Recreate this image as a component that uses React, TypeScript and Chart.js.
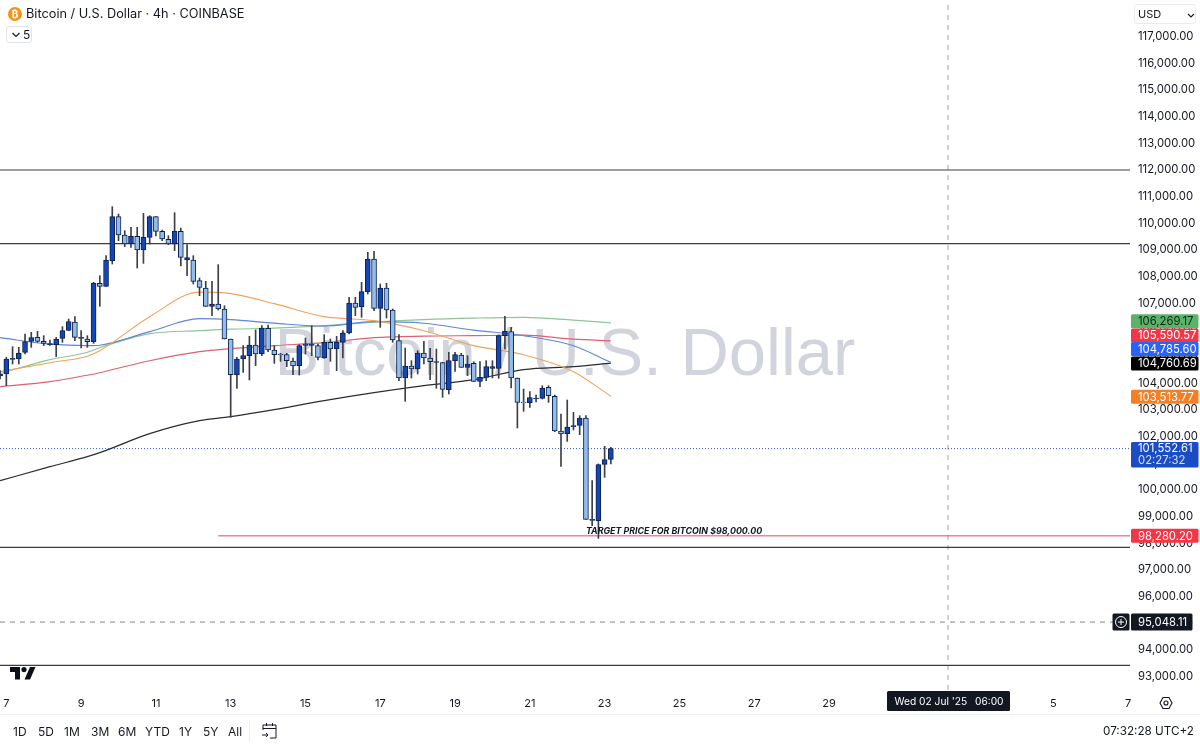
import React, { useEffect, useRef } from 'react'
import Chart from 'chart.js/auto'

// 4h candles, first candle is the one just left of the "7" tick
const opens = [
  104275, 104350, 104900, 104912, 105162, 105575, 105725, 105575, 105450, 105450,
  105687, 105987, 106300, 105687, 105662, 105562, 107750, 107637, 108600, 110250,
  109562, 109225, 109512, 109000, 109475, 110250, 109700, 109400, 109225, 109700,
  108625, 108625, 107850, 107575, 106887, 106975, 106787, 105662, 104312, 104912,
  105037, 105437, 105100, 106062, 105250, 105100, 105075, 104837, 104662, 105425,
  105425, 105412, 104950, 105537, 105287, 105537, 105887, 107012, 106875, 107437,
  108662, 106812, 107575, 106750, 105600, 104200, 104650, 104537, 105137, 104950,
  104787, 104775, 103762, 104850, 105062, 104600, 104750, 104075, 104225, 104562,
  104562, 105787, 105937, 104200, 103300, 103275, 103412, 103437, 103850, 103512,
  102212, 102112, 102375, 102425, 102700, 98862, 98850, 100962, 101150
]
const closes = [
  104350, 104912, 104937, 105137, 105562, 105712, 105575, 105500, 105487, 105662,
  105975, 106312, 105725, 105725, 105562, 107762, 107637, 108625, 110250, 109562,
  109225, 109512, 109000, 109475, 110250, 109700, 109412, 109225, 109700, 108725,
  108712, 107825, 107600, 106887, 106975, 106787, 105662, 104325, 104912, 105037,
  105437, 105100, 106075, 105250, 105075, 105062, 104850, 104650, 105412, 105475,
  105462, 104975, 105537, 105287, 105537, 105887, 107012, 106850, 107437, 108662,
  106812, 107575, 106750, 105625, 104200, 104650, 104537, 105137, 104950, 104812,
  104812, 103775, 104850, 105075, 104600, 104725, 104075, 104225, 104625, 104625,
  105787, 105950, 104200, 103287, 103275, 103462, 103450, 103825, 103537, 102212,
  102100, 102362, 102412, 102700, 98900, 98900, 100950, 101137, 101552
]
const highs = [
  104475, 104975, 105375, 105350, 105850, 105912, 105950, 105787, 105625, 105725,
  106125, 106412, 106500, 105975, 105787, 107787, 108037, 108787, 110625, 110350,
  109725, 109850, 109850, 110375, 110287, 110250, 109750, 109537, 110400, 109825,
  109200, 108787, 107950, 107825, 107825, 108450, 106912, 105662, 104975, 105412,
  105762, 106000, 106162, 106187, 105412, 105125, 105125, 104950, 105450, 105700,
  106162, 105475, 105825, 105662, 105762, 105975, 107225, 107225, 107787, 108912,
  108950, 107725, 107750, 106787, 105825, 105325, 104850, 105225, 105575, 105312,
  105287, 104787, 105162, 105162, 105125, 105037, 104812, 104812, 104850, 104850,
  105812, 106512, 106100, 104200, 103787, 103687, 103562, 103912, 103912, 103562,
  102850, 103375, 102912, 102787, 102787, 100350, 100975, 101637, 101600
]
const lows = [
  104163, 103912, 104725, 104725, 105100, 105350, 105537, 105412, 105425, 105000,
  105537, 105975, 105600, 105325, 105350, 105500, 106887, 107637, 108475, 109350,
  109125, 109100, 108325, 108500, 109225, 109525, 109350, 109200, 108975, 108400,
  108037, 107725, 107287, 106887, 106537, 106750, 105662, 102725, 103812, 104412,
  104125, 104662, 105037, 105187, 104750, 104825, 104625, 104325, 104312, 105100,
  105037, 104875, 104937, 104825, 104475, 104950, 105850, 106537, 106475, 107350,
  106725, 106100, 106450, 105537, 104100, 103325, 104200, 104350, 104725, 104137,
  103812, 103475, 103600, 104450, 104600, 104287, 104062, 103875, 104100, 104200,
  104187, 105287, 103825, 102325, 102950, 103100, 103300, 103412, 103287, 102187,
  100887, 101825, 102250, 102075, 98900, 98662, 98187, 100475, 100975
]

// moving averages, read at these candles
const maCandles = [0, 8, 14, 16, 24, 32, 37, 44, 52, 60, 68, 76, 84, 92, 98]
const maOrange = [104438, 104775, 105019, 105225, 106500, 107419, 107363, 106988, 106500, 106350, 105975, 105413, 105075, 104438, 103514]
const maBlue = [105713, 105469, 105413, 105431, 105938, 106425, 106388, 106256, 106144, 106313, 106256, 105994, 105788, 105413, 104786]
const maGreen = [104363, 104888, 105169, 105338, 105863, 105975, 106031, 106069, 106163, 106294, 106388, 106444, 106474, 106369, 106269]
const maRed = [103875, 104063, 104306, 104400, 104850, 105188, 105300, 105413, 105525, 105713, 105769, 105788, 105806, 105656, 105591]
const maBlack = [100350, 100875, 101250, 101400, 102113, 102600, 102750, 103013, 103350, 103650, 103913, 104138, 104513, 104625, 104761]

const levelPrices = [112000, 109238, 97850, 93420]
const targetPrice = 98280.2
const currentPrice = 101552.61
const crosshairPrice = 95048.11
const crosshairCandle = 152.1

const xTickCandles = [1, 13, 25, 37, 49, 61, 73, 85, 97, 109, 121, 133, 169, 181]
const xTickLabels = ['7', '9', '11', '13', '15', '17', '19', '21', '23', '25', '27', '29', '5', '7']
const yTickValues = [
  93000, 94000, 95000, 96000, 97000, 98000, 99000, 100000, 101000, 102000, 103000, 104000, 105000,
  106000, 107000, 108000, 109000, 110000, 111000, 112000, 113000, 114000, 115000, 116000, 117000
]
const rangeButtons = ['1D', '5D', '1M', '3M', '6M', 'YTD', '1Y', '5Y', 'All']

const FONT = 'Inter, "Liberation Sans", sans-serif'
const AXIS_SIZE = 11.3
const X_MIN = -0.016
const X_MAX = 181.3
const Y_MIN = 92500
const Y_MAX = 118375

// price tags on the right axis: TradingView pushes them apart, hence the nudge
const tags = [
  { price: 106269.17, text: '106,269.17', bg: '#5bb36a', color: '#0b2a12', nudge: -1.5 },
  { price: 105590.57, text: '105,590.57', bg: '#f23645', color: '#ffffff', nudge: -5.5 },
  { price: 104785.6, text: '104,785.60', bg: '#2962ff', color: '#ffffff', nudge: -13.5 },
  { price: 104760.69, text: '104,760.69', bg: '#000000', color: '#ffffff', nudge: 0.5 },
  { price: 103513.77, text: '103,513.77', bg: '#f57f24', color: '#ffffff', nudge: 0.5 },
  { price: targetPrice, text: '98,280.20', bg: '#f23645', color: '#ffffff', nudge: 0 }
]

const maLine = (label: string, data: number[], color: string, width = 1.1) => ({
  type: 'line' as const,
  label,
  data: data.map((y, i) => ({ x: maCandles[i], y })),
  borderColor: color,
  borderWidth: width,
  pointRadius: 0,
  cubicInterpolationMode: 'monotone' as const,
  order: 5
})

const flatLine = (label: string, price: number, from: number, color: string, width: number, dash: number[] = []) => ({
  type: 'line' as const,
  label,
  data: [{ x: from, y: price }, { x: X_MAX, y: price }],
  borderColor: color,
  borderWidth: width,
  borderDash: dash,
  pointRadius: 0,
  order: 6
})

const watermark = {
  id: 'watermark',
  beforeDatasetsDraw(chart: Chart) {
    const { ctx } = chart
    ctx.save()
    ctx.font = '67px "Liberation Sans", sans-serif'
    ctx.fillStyle = '#d1d4dc'
    ctx.textAlign = 'center'
    ctx.textBaseline = 'middle'
    ctx.fillText('Bitcoin / U.S. Dollar', 565, 357)
    ctx.restore()
  }
}

const priceTags = {
  id: 'priceTags',
  afterDraw(chart: Chart) {
    const { ctx } = chart
    const yScale = chart.scales.y
    const xScale = chart.scales.x
    ctx.save()

    // note written on the chart
    ctx.font = 'italic bold 8.85px ' + FONT
    ctx.fillStyle = '#131722'
    ctx.textAlign = 'left'
    ctx.textBaseline = 'middle'
    ctx.fillText('TARGET PRICE FOR BITCOIN $98,000.00', xScale.getPixelForValue(94), yScale.getPixelForValue(98437))

    ctx.font = AXIS_SIZE + 'px ' + FONT
    tags.forEach((t) => {
      const y = yScale.getPixelForValue(t.price) + t.nudge
      ctx.fillStyle = t.bg
      ctx.beginPath()
      ctx.roundRect(1131, y - 7, 67.5, 14, 1.5)
      ctx.fill()
      ctx.fillStyle = t.color
      ctx.fillText(t.text, 1138, y + 0.5)
    })

    // last price with the countdown under it
    const py = yScale.getPixelForValue(currentPrice)
    ctx.fillStyle = '#1a4cc4'
    ctx.beginPath()
    ctx.roundRect(1131, py - 6.5, 67.5, 25.5, 1.5)
    ctx.fill()
    ctx.fillStyle = '#ffffff'
    ctx.fillText('101,552.61', 1138, py + 0.5)
    ctx.fillStyle = '#d6e0fb'
    ctx.fillText('02:27:32', 1138, py + 12.5)

    // crosshair price
    const cy = yScale.getPixelForValue(crosshairPrice)
    ctx.fillStyle = '#131722'
    ctx.beginPath()
    ctx.roundRect(1112.5, cy - 8.5, 17, 17, 1.5)
    ctx.fill()
    ctx.beginPath()
    ctx.roundRect(1131, cy - 8.5, 61.5, 17, 1.5)
    ctx.fill()
    ctx.strokeStyle = '#ffffff'
    ctx.lineWidth = 1
    ctx.beginPath()
    ctx.arc(1121, cy, 5.5, 0, Math.PI * 2)
    ctx.moveTo(1118, cy)
    ctx.lineTo(1124, cy)
    ctx.moveTo(1121, cy - 3)
    ctx.lineTo(1121, cy + 3)
    ctx.stroke()
    ctx.fillStyle = '#ffffff'
    ctx.fillText('95,048.11', 1138, cy + 0.5)

    // crosshair time
    ctx.fillStyle = '#131722'
    ctx.beginPath()
    ctx.roundRect(887, 691, 123, 20, 1.5)
    ctx.fill()
    ctx.font = '10.2px ' + FONT
    ctx.fillStyle = '#ffffff'
    ctx.fillText("Wed 02 Jul '25", 894.5, 702)
    ctx.fillText('06:00', 975, 702)
    ctx.restore()
  }
}

const textStyle: React.CSSProperties = { position: 'absolute', fontFamily: FONT, color: '#131722', whiteSpace: 'nowrap', lineHeight: 1 }
const rangeLeft = [13, 38, 64, 91, 118, 145, 179, 203, 228]

const App: React.FC = () => {
  const chartRef = useRef<HTMLCanvasElement | null>(null)

  useEffect(() => {
    if (!chartRef.current) return
    const candleX = opens.map((_, i) => i)

    const chart = new Chart(chartRef.current, {
      type: 'bar',
      data: {
        datasets: [
          {
            label: 'body',
            data: candleX.map((x) => ({ x, y: [opens[x], closes[x]] })),
            backgroundColor: candleX.map((x) => (closes[x] >= opens[x] ? '#1247b5' : '#90bdeb')),
            borderColor: '#10204a',
            borderWidth: 1,
            borderSkipped: false,
            barThickness: 5,
            grouped: false,
            order: 1
          },
          {
            label: 'wick',
            data: candleX.map((x) => ({ x, y: [lows[x], highs[x]] })),
            backgroundColor: '#3c3f48',
            borderWidth: 0,
            barThickness: 1,
            grouped: false,
            order: 2
          },
          maLine('MA orange', maOrange, '#f0a35e'),
          maLine('MA blue', maBlue, '#5f86d8'),
          maLine('MA green', maGreen, '#8cc694'),
          maLine('MA red', maRed, '#e0606e'),
          maLine('MA black', maBlack, '#2a2c33', 1.2),
          ...levelPrices.map((p, i) => flatLine('level ' + i, p, X_MIN, '#3a3c42', 1.2)),
          flatLine('target', targetPrice, 35, '#e2475a', 1),
          flatLine('last', currentPrice, X_MIN, '#2f5fc9', 1, [1, 2]),
          flatLine('cross h', crosshairPrice, X_MIN, '#83868f', 1, [5, 5]),
          {
            type: 'line' as const,
            label: 'cross v',
            data: [{ x: crosshairCandle, y: Y_MIN }, { x: crosshairCandle, y: Y_MAX }],
            borderColor: '#a4a6ad',
            borderWidth: 1,
            borderDash: [5, 5],
            pointRadius: 0,
            order: 6
          }
        ] as any
      },
      options: {
        animation: false,
        responsive: false,
        layout: { padding: { bottom: 31 } },
        plugins: { legend: { display: false }, tooltip: { enabled: false } },
        scales: {
          x: {
            type: 'linear',
            min: X_MIN,
            max: X_MAX,
            offset: false,
            grid: { display: false, drawTicks: false },
            border: { display: false },
            afterFit: (s: any) => {
              s.height = 25
              s.paddingLeft = 0
              s.paddingRight = 0
            },
            afterBuildTicks: (s: any) => {
              s.ticks = xTickCandles.map((value) => ({ value }))
            },
            ticks: {
              autoSkip: false,
              maxRotation: 0,
              padding: 7,
              color: '#131722',
              font: { family: FONT, size: 11 },
              callback: (_v: any, i: number) => xTickLabels[i]
            }
          },
          y: {
            type: 'linear',
            position: 'right',
            min: Y_MIN,
            max: Y_MAX,
            grid: { display: false, drawTicks: false },
            border: { display: false },
            afterFit: (s: any) => {
              s.width = 70
              s.paddingTop = 0
              s.paddingBottom = 0
            },
            afterBuildTicks: (s: any) => {
              s.ticks = yTickValues.map((value) => ({ value }))
            },
            ticks: {
              autoSkip: false,
              padding: 8,
              color: '#131722',
              font: { family: FONT, size: AXIS_SIZE },
              callback: (v: any) => Number(v).toLocaleString('en-US', { minimumFractionDigits: 2 })
            }
          }
        }
      },
      plugins: [watermark, priceTags]
    } as any)

    return () => {
      chart.destroy()
    }
  }, [])

  return (
    <div style={{ position: 'fixed', left: 0, top: 0, width: 1200, height: 746, background: '#fff', overflow: 'hidden' }}>
      <canvas ref={chartRef} width={1200} height={746} style={{ display: 'block', width: 1200, height: 746 }} />

      {/* legend header */}
      <div style={{ position: 'absolute', left: 8, top: 7, width: 14, height: 14, borderRadius: 7, background: '#f7931a', color: '#fff', font: '700 10px ' + FONT, textAlign: 'center', lineHeight: '14px' }}>₿</div>
      <div style={{ ...textStyle, left: 26, top: 8, fontSize: 12.75 }}>Bitcoin / U.S. Dollar · 4h · COINBASE</div>
      <div style={{ position: 'absolute', left: 6, top: 26, width: 26, height: 17, boxSizing: 'border-box', border: '1px solid #e0e3eb', borderRadius: 3 }}>
        <svg width="10" height="6" style={{ position: 'absolute', left: 4, top: 5 }}>
          <path d="M1.5 1 L5 4.5 L8.5 1" fill="none" stroke="#131722" strokeWidth="1.1" />
        </svg>
        <span style={{ ...textStyle, left: 16, top: 2, fontSize: 12 }}>5</span>
      </div>

      {/* currency picker */}
      <div style={{ position: 'absolute', left: 1134, top: 4, width: 62, height: 20, boxSizing: 'border-box', border: '1px solid #e9ebf0', borderRadius: 3 }}>
        <span style={{ ...textStyle, left: 3, top: 4, fontSize: 11 }}>USD</span>
        <svg width="8" height="5" style={{ position: 'absolute', left: 52, top: 8 }}>
          <path d="M1 1 L4 4 L7 1" fill="none" stroke="#131722" strokeWidth="1.1" />
        </svg>
      </div>

      {/* TradingView mark */}
      <svg width="26" height="13" viewBox="0 0 26 13" style={{ position: 'absolute', left: 10, top: 667 }}>
        <path d="M0 0 H10 V12.5 H5 V5 H0 Z M14 0 A2.6 2.6 0 1 1 14 5.2 A2.6 2.6 0 1 1 14 0 Z M20 0 H25.5 L20 12.5 H14.5 Z" fill="#0c0e15" />
      </svg>

      {/* settings hexagon */}
      <svg width="14" height="14" viewBox="0 0 14 14" style={{ position: 'absolute', left: 1159, top: 696 }}>
        <path d="M4 1.5 H10 L13 7 L10 12.5 H4 L1 7 Z" fill="none" stroke="#131722" strokeWidth="1.1" />
        <circle cx="7" cy="7" r="2" fill="none" stroke="#131722" strokeWidth="1.1" />
      </svg>

      {/* bottom toolbar */}
      <div style={{ position: 'absolute', left: 0, top: 714, width: 1200, height: 1, background: '#eceef2' }} />
      {rangeButtons.map((r, i) => (
        <span key={r} style={{ ...textStyle, left: rangeLeft[i], top: 726, fontSize: 12 }}>{r}</span>
      ))}
      <div style={{ position: 'absolute', left: 249, top: 720, width: 1, height: 22, background: '#eceef2' }} />
      <svg width="18" height="18" viewBox="0 0 18 18" style={{ position: 'absolute', left: 261, top: 722 }}>
        <path d="M2 8 V3 H15 V16 H9 M2 6.5 H15 M5.5 1 V4 M11.5 1 V4 M1 13 H7 M5 11 L7 13 L5 15" fill="none" stroke="#131722" strokeWidth="1" />
      </svg>
      <span style={{ ...textStyle, right: 6, top: 726, fontSize: 11.7 }}>07:32:28 UTC+2</span>
    </div>
  )
}

export default App
